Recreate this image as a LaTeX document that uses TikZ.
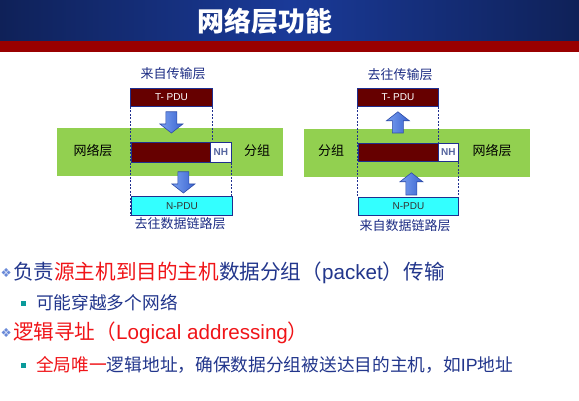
\documentclass[tikz,border=0pt]{standalone}
\usepackage{fontspec}
\setmainfont{Liberation Sans}
\newfontfamily\cjk{Noto Sans CJK SC}
\newfontfamily\symf{DejaVu Sans}
\usetikzlibrary{calc}

\definecolor{hdrdark}{HTML}{0F2158}
\definecolor{hdrmid}{HTML}{1A3A98}
\definecolor{hdrred}{HTML}{990000}
\definecolor{bandgreen}{HTML}{92D050}
\definecolor{pdumaroon}{HTML}{660000}
\definecolor{pducyan}{HTML}{33FFFF}
\definecolor{edgeblue}{HTML}{1F2F8F}
\definecolor{txtblue}{HTML}{22368C}
\definecolor{lblblue}{HTML}{1C2C84}
\definecolor{txtred}{HTML}{F01418}
\definecolor{nhgray}{HTML}{55659F}
\definecolor{arrlight}{HTML}{7AA0F0}
\definecolor{arrdark}{HTML}{3A64D0}
\definecolor{arredge}{HTML}{2E4CA8}
\definecolor{bullteal}{HTML}{0A9A9A}
\definecolor{bullblue}{HTML}{6A8AD8}

% block arrow pointing down, from tail coordinate #1 to tip coordinate #2
\newcommand\blkdown[2]{%
  \shadedraw[blkarrow] let \p1=(#1), \p2=(#2) in
    (\x1-5.5pt,\y1) -- (\x1+5.5pt,\y1) -- (\x1+5.5pt,\y2+9pt) -- (\x1+11.5pt,\y2+9pt)
    -- (\x1,\y2) -- (\x1-11.5pt,\y2+9pt) -- (\x1-5.5pt,\y2+9pt) -- cycle;}
% block arrow pointing up, from tail coordinate #1 to tip coordinate #2
\newcommand\blkup[2]{%
  \shadedraw[blkarrow] let \p1=(#1), \p2=(#2) in
    (\x1-5.5pt,\y1) -- (\x1+5.5pt,\y1) -- (\x1+5.5pt,\y2-9pt) -- (\x1+11.5pt,\y2-9pt)
    -- (\x1,\y2) -- (\x1-11.5pt,\y2-9pt) -- (\x1-5.5pt,\y2-9pt) -- cycle;}

\begin{document}
\begin{tikzpicture}[x=1pt,y=-1pt,
  band/.style={fill=bandgreen, draw=none, inner sep=0pt, anchor=north west},
  pdubox/.style={draw=edgeblue, line width=0.8pt, inner sep=0pt, anchor=north west,
    font=\fontsize{10}{12}\selectfont},
  tpdu/.style={pdubox, fill=pdumaroon, text=white},
  datab/.style={pdubox, fill=pdumaroon},
  nhbox/.style={pdubox, fill=white, text=nhgray, font=\fontsize{10}{12}\selectfont\bfseries},
  npdu/.style={pdubox, fill=pducyan, text=black!80},
  lbl/.style={font=\cjk\fontsize{13}{15}\selectfont, inner sep=0pt, text=lblblue},
  sidelbl/.style={lbl, text=black},
  guide/.style={draw=edgeblue, line width=0.7pt, dash pattern=on 2pt off 1.5pt},
  blkarrow/.style={left color=arrlight, right color=arrdark, draw=arredge, line width=0.6pt},
  line/.style={anchor=west, inner sep=0pt, text=txtblue},
  bigline/.style={line, font=\fontsize{20.6}{24}\selectfont},
  smallline/.style={line, font=\fontsize{17.7}{21}\selectfont},
  diabullet/.style={text=bullblue, font=\symf\fontsize{12.5}{15}\selectfont, inner sep=0pt},
]
\useasboundingbox (0,0) rectangle (579,401);
\fill[white] (0,0) rectangle (579,401);

% header
\shade[left color=hdrdark, right color=hdrdark, middle color=hdrmid] (0,0) rectangle (579,41);
\fill[hdrred] (0,41) rectangle (579,52);
\node[text=white, font=\cjk\bfseries\fontsize{27}{31}\selectfont, inner sep=0pt] (title) at (265,21) {网络层功能};

% ---------- left: sending side ----------
\node[band, minimum width=226, minimum height=48] (bandL) at (57,128) {};
\node[lbl] (fromT) at (173,74) {来自传输层};
\node[tpdu, minimum width=82, minimum height=18] (tL) at (130,88) {T- PDU};
\node[datab, minimum width=79, minimum height=20] (dataL) at (131,142) {};
\node[nhbox, minimum width=21, minimum height=20] (nhL) at (210,142) {NH};
\node[npdu, minimum width=101, minimum height=19] (npduL) at (131,196) {N-PDU};
\node[lbl] (toDL) at (180,224) {去往数据链路层};
\node[sidelbl] (netL) at (93,151) {网络层};
\node[sidelbl] (pktL) at (257,151) {分组};

\draw[guide] (tL.south west) -- (tL.south west |- npduL.south);
\draw[guide] (tL.south east) -- (tL.south east |- nhL.north);
\draw[guide] (nhL.south east) -- (nhL.south east |- npduL.north);

\coordinate (a1t) at ($(tL.south)+(0,5)$);
\coordinate (a1h) at ($(tL.south |- dataL.north)+(0,-9)$);
\blkdown{a1t}{a1h}
\coordinate (a2t) at ($(npduL.north |- dataL.south)+(1.5,9)$);
\coordinate (a2h) at ($(npduL.north)+(1.5,-3)$);
\blkdown{a2t}{a2h}

% ---------- right: receiving side ----------
\node[band, minimum width=226, minimum height=48] (bandR) at (304,129) {};
\node[lbl] (toT) at (400,75) {去往传输层};
\node[tpdu, minimum width=81, minimum height=18] (tR) at (357,88) {T- PDU};
\node[datab, minimum width=80, minimum height=18] (dataR) at (358,143) {};
\node[nhbox, minimum width=20, minimum height=18] (nhR) at (438,143) {NH};
\node[npdu, minimum width=100, minimum height=18] (npduR) at (358,197) {N-PDU};
\node[lbl] (fromDL) at (405,226) {来自数据链路层};
\node[sidelbl] (pktR) at (331,151) {分组};
\node[sidelbl] (netR) at (492,151) {网络层};

\draw[guide] (tR.south west) -- (tR.south west |- npduR.north);
\draw[guide] (tR.south east) -- (tR.south east |- dataR.north);
\draw[guide] (nhR.south east) -- (nhR.south east |- npduR.north);

\coordinate (b1t) at ($(tR.south |- dataR.north)+(0,-10)$);
\coordinate (b1h) at ($(tR.south)+(0,5)$);
\blkup{b1t}{b1h}
\coordinate (b2t) at ($(npduR.north)+(3,-2)$);
\coordinate (b2h) at ($(npduR.north |- dataR.south)+(3,11)$);
\blkup{b2t}{b2h}

% ---------- bullet text ----------
\node[diabullet, anchor=west] (b1) at (0.5,273) {❖};
\node[bigline] (l1) at (13,273) {{\cjk 负责}{\color{txtred}\cjk 源主机到目的主机}{\cjk 数据分组（}packet{\cjk ）传输}};

\fill[bullteal] (21,300.5) rectangle (26,305.5);
\node[smallline] (l2) at (36,303) {\cjk 可能穿越多个网络};

\node[diabullet, anchor=west] (b3) at (0.5,333) {❖};
\node[bigline, text=txtred] (l3) at (13,333) {{\cjk 逻辑寻址（}Logical addressing{\cjk ）}};

\fill[bullteal] (21,362.5) rectangle (26,367.5);
\node[smallline] (l4) at (36,365) {{\color{txtred}\cjk 全局唯一}{\cjk 逻辑地址，确保数据分组被送达目的主机，如}IP{\cjk 地址}};
\end{tikzpicture}
\end{document}
